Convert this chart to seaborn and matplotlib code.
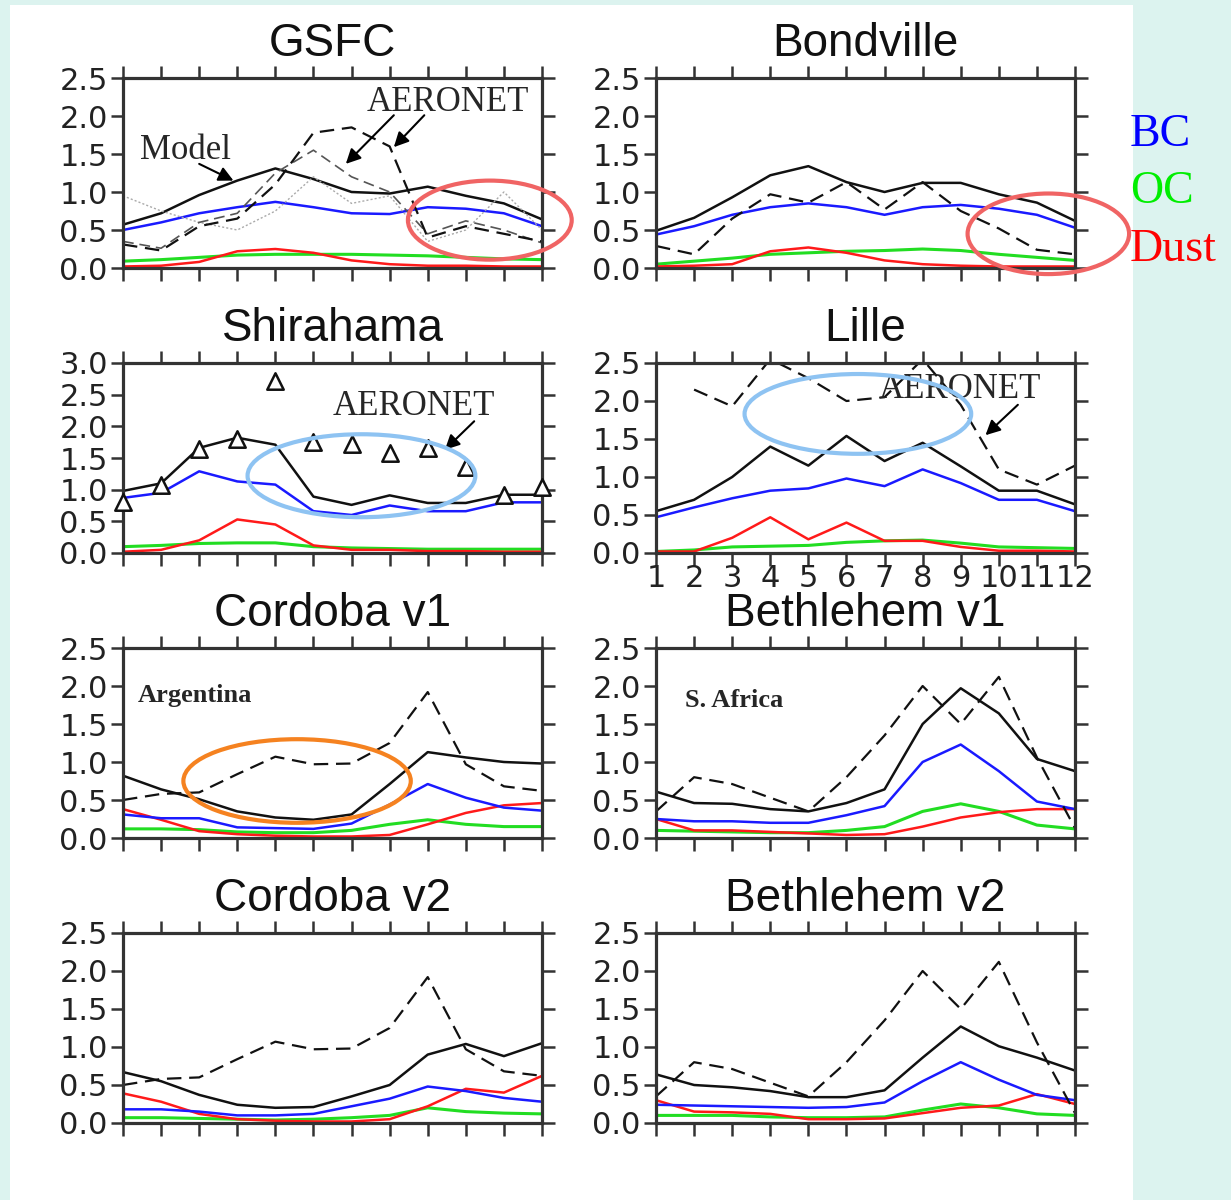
import numpy as np
import matplotlib
matplotlib.use("Agg")
import matplotlib.pyplot as plt
from matplotlib.patches import Ellipse, Rectangle
from matplotlib.ticker import FormatStrFormatter
import seaborn as sns

# months on the x axis
months = np.arange(1, 13)

# GSFC
gsfc_model = [0.57, 0.72, 0.96, 1.15, 1.31, 1.17, 1.0, 0.98, 1.07, 0.95, 0.85, 0.64]
gsfc_bc = [0.5, 0.6, 0.72, 0.8, 0.87, 0.8, 0.72, 0.71, 0.8, 0.78, 0.72, 0.55]
gsfc_oc = [0.09, 0.11, 0.14, 0.17, 0.18, 0.18, 0.18, 0.17, 0.16, 0.14, 0.12, 0.11]
gsfc_dust = [0.02, 0.03, 0.08, 0.22, 0.25, 0.2, 0.1, 0.05, 0.03, 0.03, 0.02, 0.02]
gsfc_aeronet = [0.31, 0.23, 0.55, 0.65, 1.1, 1.78, 1.85, 1.6, 0.4, 0.55, 0.45, 0.35]
gsfc_aeronet2 = [0.35, 0.26, 0.6, 0.72, 1.25, 1.55, 1.2, 1.0, 0.45, 0.62, 0.5, 0.33]
gsfc_aeronet3 = [0.95, 0.75, 0.6, 0.5, 0.75, 1.2, 0.85, 0.95, 0.35, 0.5, 1.0, 0.5]

# Bondville
bond_model = [0.49, 0.66, 0.93, 1.22, 1.34, 1.13, 1.0, 1.12, 1.12, 0.97, 0.86, 0.62]
bond_bc = [0.44, 0.55, 0.7, 0.8, 0.85, 0.8, 0.7, 0.8, 0.83, 0.78, 0.7, 0.53]
bond_oc = [0.05, 0.09, 0.13, 0.18, 0.2, 0.22, 0.23, 0.25, 0.23, 0.18, 0.14, 0.1]
bond_dust = [0.02, 0.03, 0.05, 0.22, 0.27, 0.2, 0.1, 0.05, 0.03, 0.02, 0.02, 0.02]
bond_aeronet = [0.29, 0.18, 0.65, 0.97, 0.86, 1.13, 0.77, 1.13, 0.75, 0.52, 0.24, 0.18]

# Shirahama
shira_model = [0.98, 1.1, 1.66, 1.82, 1.71, 0.89, 0.76, 0.91, 0.79, 0.79, 0.92, 0.92]
shira_bc = [0.87, 0.95, 1.29, 1.13, 1.08, 0.66, 0.6, 0.75, 0.66, 0.66, 0.8, 0.8]
shira_oc = [0.1, 0.12, 0.15, 0.16, 0.16, 0.1, 0.08, 0.07, 0.06, 0.06, 0.06, 0.06]
shira_dust = [0.02, 0.05, 0.2, 0.53, 0.45, 0.12, 0.05, 0.05, 0.03, 0.03, 0.02, 0.02]
shira_aeronet = [0.8, 1.08, 1.65, 1.8, 2.72, 1.75, 1.72, 1.58, 1.66, 1.36, 0.92, 1.04]

# Lille
lille_model = [0.55, 0.7, 1.0, 1.4, 1.15, 1.54, 1.21, 1.45, 1.14, 0.82, 0.82, 0.64]
lille_bc = [0.47, 0.6, 0.72, 0.82, 0.85, 0.98, 0.88, 1.1, 0.92, 0.7, 0.7, 0.55]
lille_oc = [0.02, 0.04, 0.08, 0.09, 0.1, 0.14, 0.16, 0.17, 0.13, 0.08, 0.07, 0.06]
lille_dust = [0.02, 0.02, 0.2, 0.47, 0.18, 0.4, 0.16, 0.16, 0.08, 0.03, 0.03, 0.02]
lille_aeronet = [np.nan, 2.15, 1.93, 2.55, 2.3, 2.0, 2.05, 2.55, 1.95, 1.1, 0.9, 1.15]

# Cordoba (same AERONET record in both versions)
cordoba_aeronet = [0.5, 0.58, 0.6, 0.84, 1.07, 0.97, 0.98, 1.25, 1.92, 0.97, 0.68, 0.62]
cord1_model = [0.82, 0.64, 0.51, 0.35, 0.27, 0.24, 0.31, 0.71, 1.13, 1.06, 1.0, 0.98]
cord1_bc = [0.31, 0.26, 0.26, 0.14, 0.13, 0.12, 0.19, 0.44, 0.71, 0.53, 0.4, 0.36]
cord1_oc = [0.12, 0.12, 0.11, 0.08, 0.07, 0.07, 0.1, 0.18, 0.24, 0.18, 0.15, 0.15]
cord1_dust = [0.38, 0.24, 0.09, 0.05, 0.03, 0.02, 0.02, 0.04, 0.18, 0.33, 0.43, 0.46]
cord2_model = [0.67, 0.55, 0.37, 0.24, 0.2, 0.21, 0.35, 0.5, 0.9, 1.04, 0.88, 1.05]
cord2_bc = [0.18, 0.18, 0.15, 0.1, 0.1, 0.12, 0.22, 0.32, 0.48, 0.42, 0.33, 0.28]
cord2_oc = [0.07, 0.07, 0.06, 0.05, 0.04, 0.05, 0.07, 0.1, 0.2, 0.15, 0.13, 0.12]
cord2_dust = [0.39, 0.28, 0.12, 0.05, 0.03, 0.02, 0.02, 0.05, 0.22, 0.45, 0.4, 0.62]

# Bethlehem (same AERONET record in both versions)
beth_aeronet = [0.35, 0.8, 0.71, 0.53, 0.35, 0.8, 1.35, 2.0, 1.5, 2.12, 1.06, 0.13]
beth1_model = [0.61, 0.46, 0.45, 0.38, 0.35, 0.46, 0.64, 1.5, 1.97, 1.64, 1.04, 0.88]
beth1_bc = [0.25, 0.22, 0.22, 0.2, 0.2, 0.3, 0.42, 1.0, 1.23, 0.88, 0.48, 0.38]
beth1_oc = [0.1, 0.09, 0.08, 0.07, 0.07, 0.1, 0.15, 0.35, 0.45, 0.35, 0.17, 0.12]
beth1_dust = [0.25, 0.1, 0.1, 0.08, 0.06, 0.04, 0.05, 0.15, 0.27, 0.34, 0.38, 0.38]
beth2_model = [0.64, 0.5, 0.47, 0.42, 0.34, 0.34, 0.43, 0.86, 1.27, 1.01, 0.86, 0.69]
beth2_bc = [0.24, 0.23, 0.22, 0.21, 0.2, 0.21, 0.27, 0.55, 0.8, 0.57, 0.37, 0.3]
beth2_oc = [0.1, 0.1, 0.1, 0.08, 0.07, 0.07, 0.08, 0.17, 0.25, 0.2, 0.12, 0.1]
beth2_dust = [0.3, 0.15, 0.14, 0.12, 0.05, 0.05, 0.06, 0.13, 0.2, 0.23, 0.38, 0.25]

sns.set_style("white")
plt.rcParams['font.family'] = ['Liberation Sans', 'DejaVu Sans']

SERIF = ['Liberation Serif', 'DejaVu Serif']
DASH = (0, (6.5, 3.5))
C_BC, C_OC, C_DUST = '#1a1aff', '#22dd22', '#ff1a1a'

fig = plt.figure(figsize=(12.31, 12.0), dpi=100, facecolor='#dcf3ef')
fig.add_artist(Rectangle((10 / 1231, 0), 1123 / 1231, 1195 / 1200,
                         transform=fig.transFigure, facecolor='white',
                         edgecolor='none', zorder=-10))

col_x = [123 / 1231, 656 / 1231]
col_w = 419 / 1231
row_top = [78, 363, 648, 933]
row_h = 190


def make_axes(row, col, ymax=2.5, xlabels=False):
    top = row_top[row]
    ax = fig.add_axes([col_x[col], 1 - (top + row_h) / 1200, col_w, row_h / 1200])
    ax.set_xlim(1, 12)
    ax.set_ylim(0, ymax)
    ax.set_xticks(months)
    ax.set_yticks(np.arange(0, ymax + 0.01, 0.5))
    ax.yaxis.set_major_formatter(FormatStrFormatter('%.1f'))
    ax.tick_params(axis='both', direction='out', length=9, width=1.8,
                   color='#333333', labelsize=22, pad=2, labelcolor='#222222',
                   top=True, bottom=True, left=True, right=True,
                   labelbottom=xlabels, labeltop=False, labelright=False)
    ax.tick_params(axis='x', pad=-1)
    for lab in ax.get_xticklabels() + ax.get_yticklabels():
        lab.set_family(['DejaVu Sans'])
    for s in ax.spines.values():
        s.set_linewidth(2.3)
        s.set_color('#333333')
    ax.set_xlabel('')
    ax.set_ylabel('')
    return ax


def draw_model(ax, model, bc, oc, dust):
    sns.lineplot(x=months, y=oc, ax=ax, color=C_OC, lw=2.2)
    sns.lineplot(x=months, y=dust, ax=ax, color=C_DUST, lw=1.8)
    sns.lineplot(x=months, y=bc, ax=ax, color=C_BC, lw=1.8)
    sns.lineplot(x=months, y=model, ax=ax, color='#111111', lw=1.8)


def draw_aeronet(ax, vals, color='#111111', lw=1.6, ls=DASH):
    sns.lineplot(x=months, y=vals, ax=ax, color=color, lw=lw, linestyle=ls)


def title(ax, text):
    ax.set_title(text, fontsize=33, pad=16, color='#111111')


def ring(ax, cx, cy, w, h, color):
    ax.add_patch(Ellipse((cx, cy), w, h, fill=False, edgecolor=color,
                         lw=3, clip_on=False, zorder=10))


def arrow(ax, tail, head):
    ax.annotate('', xy=head, xytext=tail,
                arrowprops=dict(arrowstyle='-|>', color='black', lw=1.5,
                                mutation_scale=22, shrinkA=0, shrinkB=0))


# GSFC
ax = make_axes(0, 0)
title(ax, 'GSFC')
draw_model(ax, gsfc_model, gsfc_bc, gsfc_oc, gsfc_dust)
draw_aeronet(ax, gsfc_aeronet3, color='#aaaaaa', lw=1.0, ls=(0, (1.5, 1.5)))
draw_aeronet(ax, gsfc_aeronet2, color='#555555', lw=1.2)
draw_aeronet(ax, gsfc_aeronet)
ax.text(1.45, 1.55, 'Model', family=SERIF, fontsize=25, va='center')
arrow(ax, (3.0, 1.37), (3.9, 1.15))
ax.text(7.4, 2.18, 'AERONET', family=SERIF, fontsize=25, va='center')
arrow(ax, (8.11, 2.01), (6.85, 1.37))
arrow(ax, (8.91, 2.01), (8.11, 1.59))
ring(ax, 10.63, 0.63, 4.3, 1.04, '#f06464')

# Bondville
ax = make_axes(0, 1)
title(ax, 'Bondville')
draw_model(ax, bond_model, bond_bc, bond_oc, bond_dust)
draw_aeronet(ax, bond_aeronet)
ring(ax, 11.3, 0.45, 4.24, 1.06, '#f06464')

# Shirahama
ax = make_axes(1, 0, ymax=3.0)
title(ax, 'Shirahama')
draw_model(ax, shira_model, shira_bc, shira_oc, shira_dust)
sns.scatterplot(x=months, y=shira_aeronet, ax=ax, marker='^', s=140,
                facecolor='white', edgecolor='#111111', linewidth=1.8,
                zorder=5, clip_on=False)
ax.text(6.5, 2.32, 'AERONET', family=SERIF, fontsize=25, va='center')
arrow(ax, (10.22, 2.08), (9.45, 1.63))
ring(ax, 7.26, 1.22, 5.98, 1.31, '#8ec3f2')

# Lille
ax = make_axes(1, 1, xlabels=True)
title(ax, 'Lille')
draw_model(ax, lille_model, lille_bc, lille_oc, lille_dust)
draw_aeronet(ax, lille_aeronet)
ax.text(6.84, 2.15, 'AERONET', family=SERIF, fontsize=25, va='center')
arrow(ax, (10.5, 1.95), (9.65, 1.55))
ring(ax, 6.3, 1.83, 5.95, 1.05, '#8ec3f2')

# Cordoba v1
ax = make_axes(2, 0)
title(ax, 'Cordoba v1')
draw_model(ax, cord1_model, cord1_bc, cord1_oc, cord1_dust)
draw_aeronet(ax, cordoba_aeronet)
ax.text(1.38, 1.87, 'Argentina', family=SERIF, fontsize=19,
        fontweight='bold', va='center')
ring(ax, 5.57, 0.75, 5.97, 1.1, '#f58220')

# Bethlehem v1
ax = make_axes(2, 1)
title(ax, 'Bethlehem v1')
draw_model(ax, beth1_model, beth1_bc, beth1_oc, beth1_dust)
draw_aeronet(ax, beth_aeronet)
ax.text(1.77, 1.81, 'S. Africa', family=SERIF, fontsize=19,
        fontweight='bold', va='center')

# Cordoba v2
ax = make_axes(3, 0)
title(ax, 'Cordoba v2')
draw_model(ax, cord2_model, cord2_bc, cord2_oc, cord2_dust)
draw_aeronet(ax, cordoba_aeronet)

# Bethlehem v2
ax = make_axes(3, 1)
title(ax, 'Bethlehem v2')
draw_model(ax, beth2_model, beth2_bc, beth2_oc, beth2_dust)
draw_aeronet(ax, beth_aeronet)

# colour key on the right
for label, color, ypix in [('BC', '#0000ff', 135), ('OC', '#00ee00', 192),
                           ('Dust', '#ff0000', 250)]:
    fig.text(1130 / 1231, 1 - ypix / 1200, label, family=SERIF, fontsize=33,
             color=color, va='center', ha='left')

fig.savefig('out.png', dpi=100, facecolor=fig.get_facecolor())
